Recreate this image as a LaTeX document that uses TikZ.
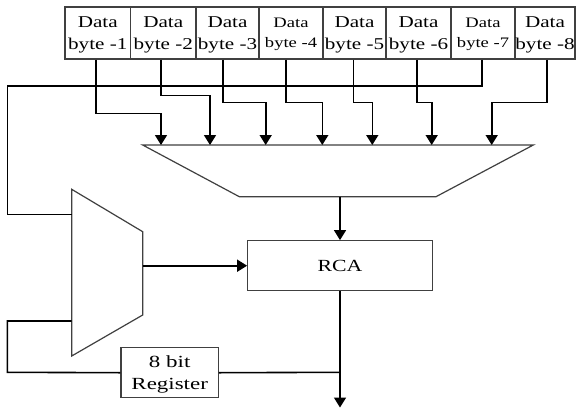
\documentclass[tikz,border=0pt]{standalone}
\usepackage{fontspec}
\usepackage{graphicx}
\setmainfont{Liberation Serif}
\usetikzlibrary{arrows.meta}
\newcommand\wtxt[1]{\scalebox{1.28}[1]{#1}}
\begin{document}
\begin{tikzpicture}[x=1pt,y=-1pt,
  shapeline/.style={draw=black!75, line width=1.2pt},
  wire/.style={draw=black, line width=1.6pt},
  arr/.style={wire, -{Triangle[width=12pt,length=10pt]}},
  databox/.style={shapeline, rectangle, minimum width=64pt, minimum height=52pt, inner sep=0pt, align=center, font=\fontsize{16.5}{22}\selectfont, text depth=0pt},
  smallbox/.style={databox, font=\fontsize{14.5}{20}\selectfont},
  blockbox/.style={shapeline, rectangle, inner sep=0pt, align=center, font=\fontsize{17}{22}\selectfont}
]
\useasboundingbox (0,0) rectangle (576,408);
\fill[white] (0,0) rectangle (576,408);

% data byte boxes
\node[databox, minimum width=65.5pt] (b1) at (97.75,33) {\wtxt{Data}\\\wtxt{byte -1}};
\node[databox, minimum width=65.5pt] (b2) at (163.25,33) {\wtxt{Data}\\\wtxt{byte -2}};
\node[databox, minimum width=63pt] (b3) at (227.5,33) {\wtxt{Data}\\\wtxt{byte -3}};
\node[smallbox, minimum width=64pt] (b4) at (291,33) {\wtxt{Data}\\\wtxt{byte -4}};
\node[databox, minimum width=63pt] (b5) at (354.5,33) {\wtxt{Data}\\\wtxt{byte -5}};
\node[databox, minimum width=65pt] (b6) at (418.5,33) {\wtxt{Data}\\\wtxt{byte -6}};
\node[smallbox, minimum width=64pt] (b7) at (483,33) {\wtxt{Data}\\\wtxt{byte -7}};
\node[databox, minimum width=60pt] (b8) at (545,33) {\wtxt{Data}\\\wtxt{byte -8}};

% adder-tree trapezoid
\coordinate (tTL) at (142.7,145);
\coordinate (tTR) at (533.3,145);
\coordinate (tBR) at (436,196.7);
\coordinate (tBL) at (239.3,196.7);
\draw[shapeline] (tTL) -- (tTR) -- (tBR) -- (tBL) -- cycle;
\coordinate (tout) at (340,196.7);

% multiplexer
\coordinate (mTL) at (71.7,189.3);
\coordinate (mTR) at (142.7,231.7);
\coordinate (mBR) at (142.7,315);
\coordinate (mBL) at (71.7,356);
\draw[shapeline] (mTL) -- (mTR) -- (mBR) -- (mBL) -- cycle;
\coordinate (min1) at (71.7,214.3);
\coordinate (min2) at (71.7,321);
\coordinate (mout) at (142.7,265.7);

% RCA and register
\node[blockbox, minimum width=184.6pt, minimum height=50pt] (rca) at (340,265.7) {\wtxt{RCA}};
\node[blockbox, minimum width=97.3pt, minimum height=50pt, text depth=0pt] (reg) at (169.7,372.7) {\scalebox{1.35}[1]{8 bit}\\\scalebox{1.35}[1]{Register}};

% tap points on the trapezoid
\coordinate (t1) at (161,145);
\coordinate (t2) at (210,145);
\coordinate (t3) at (265.7,145);
\coordinate (t4) at (322.3,145);
\coordinate (t5) at (372.3,145);
\coordinate (t6) at (431.7,145);
\coordinate (t7) at (491.7,145);

\draw[arr] ([xshift=-1.75pt]b1.south) -- ++(0,53.7) -| (t1);
\draw[arr] ([xshift=-2.25pt]b2.south) -- ++(0,36) -| (t2);
\draw[arr] ([xshift=-4.8pt]b3.south) -- ++(0,42.7) -| (t3);
\draw[arr] ([xshift=-5pt]b4.south) -- ++(0,42.7) -| (t4);
\draw[arr] ([xshift=-1.2pt]b5.south) -- ++(0,42.7) -| (t5);
\draw[arr] ([xshift=-1.8pt]b6.south) -- ++(0,42.7) -| (t6);
\draw[arr] ([xshift=1.7pt]b8.south) -- ++(0,42.7) -| (t7);

% feedback from data byte 7 into the multiplexer
\coordinate (fbtop) at (7.3,86);
\draw[wire] ([xshift=-1.3pt]b7.south) |- (fbtop) |- (min1);

% trapezoid to RCA, mux to RCA
\draw[arr] (tout) -- (rca.north);
\draw[arr] (mout) -- (rca.west);

% RCA output
\coordinate (outend) at (340,407.5);
\coordinate (junc) at (340,372.3);
\coordinate (fbbot) at (7.3,372.3);
\draw[arr] (rca.south) -- (outend);
\draw[wire] (junc) -- (reg.east);
\draw[wire] (reg.west) -- (fbbot) |- (min2);
\end{tikzpicture}
\end{document}
